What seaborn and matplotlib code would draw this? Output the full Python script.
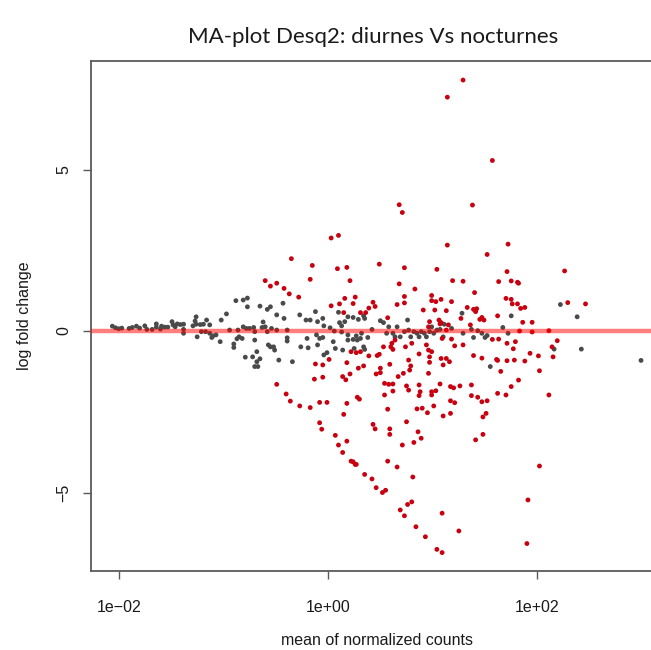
import matplotlib
matplotlib.use('Agg')
import matplotlib.pyplot as plt
import seaborn as sns
import numpy as np
import pandas as pd
from matplotlib.ticker import FixedLocator, NullLocator

# log10(mean of normalized counts) and log fold change, read off the MA-plot
# genes not significant (gray)
gray_log_mean = [
    -2.06, -2.03, -2.00, -1.97, -1.90, -1.87, -1.83, -1.80, -1.75, -1.73,
    -1.68, -1.64, -1.64, -1.60, -1.59, -1.56, -1.53, -1.49, -1.48, -1.46,
    -1.44, -1.41, -1.38, -1.38, -1.38, -1.29, -1.27, -1.26, -1.26, -1.25,
    -1.22, -1.21, -1.19, -1.17, -1.16, -1.13, -1.13, -1.11, -1.10, -1.07,
    -1.03, -1.02, -0.97, -0.94, -0.90, -0.90, -0.87, -0.86, -0.85, -0.82,
    -0.81, -0.79, -0.78, -0.75, -0.72, -0.71, -0.70, -0.70, -0.68, -0.67,
    -0.65, -0.68, -0.70, -0.63, -0.62, -0.60, -0.58, -0.57, -0.55, -0.54,
    -0.52, -0.51, -0.49, -0.47, -0.88, -0.81, -0.77, -0.77, -0.65, -0.58,
    -0.55, -0.49,
    -0.43, -0.42, -0.39, -0.39, -0.39, -0.34, -0.27, -0.21, -0.17, -0.12,
    -0.10, -0.05, -0.04, -0.11, -0.08, -0.05, -0.20, -0.26, -0.19, -0.10,
    -0.04, -0.01, 0.02, 0.06, 0.05, 0.07, 0.10, 0.11, 0.13, 0.16,
    0.13, 0.19, 0.19, 0.24, 0.29, 0.34, 0.35, 0.19, 0.24, 0.27,
    0.28, 0.31, 0.32, 0.34, 0.35, 0.38, 0.25, 0.14, 0.42, 0.50,
    0.53, 0.58, 0.56, 0.62, 0.64, 0.66, 0.69, 0.73, 0.76, 0.77,
    0.79, 0.82, 0.85, 0.87, 0.89, 0.92, 0.94, 0.97, 1.01, 1.04,
    1.07, 1.10, 0.99, 1.11, 1.18, 1.29, 1.28,
    2.22, 2.38, 1.75, 1.67, 1.37, 1.43, 1.47, 1.52, 1.50, 1.39,
    1.72, 1.55, 2.16, 2.42, 2.99,
]
gray_lfc = [
    0.15, 0.10, 0.07, 0.09, 0.08, 0.11, 0.15, 0.09, 0.16, 0.05,
    0.05, 0.22, 0.12, 0.06, 0.15, 0.12, 0.12, 0.29, 0.19, 0.13,
    0.22, 0.20, 0.21, 0.05, -0.07, 0.16, 0.31, 0.44, 0.21, -0.18,
    0.20, -0.02, 0.21, -0.02, 0.34, 0.19, -0.07, -0.20, -0.15, -0.12,
    -0.33, 0.34, 0.53, 0.03, -0.40, -0.51, -0.24, 0.03, -0.18, -0.23,
    0.13, -0.81, 0.08, 0.08, -0.80, 0.11, -0.02, -0.28, -0.95, -1.10,
    -0.86, -0.64, -1.10, 0.11, 0.28, 0.13, -0.02, -0.43, -0.49, 0.08,
    -0.49, -0.59, 0.03, -0.90, 0.94, 0.96, 1.02, 0.75, 0.77, 0.67,
    0.75, 0.50,
    0.86, 0.39, 0.03, -0.21, -0.31, -0.95, 0.50, 0.34, 0.34, 0.60,
    0.29, 0.39, 0.16, -0.12, -0.23, -0.20, -0.23, -0.49, -0.52, -0.43,
    -0.74, -0.67, 0.10, 0.00, -0.33, -0.54, 0.58, 0.26, 0.16, 0.29,
    -0.03, -0.12, 0.44, 0.42, 0.36, 0.47, 0.39, -0.28, -0.26, -0.15,
    -0.28, -0.23, -0.07, -0.49, -0.57, -0.20, -0.54, -0.59, 0.05, 0.32,
    0.26, 0.13, -0.07, -0.07, -0.18, 0.13, -0.18, -0.02, 0.34, 0.03,
    -0.18, -0.02, -0.07, -0.18, -0.02, -0.07, -0.18, -0.02, -0.07, 0.03,
    0.05, -0.18, 0.13, 0.21, 0.08, -0.07, 0.55,
    0.82, 0.44, 0.47, 0.11, 0.05, 0.01, -0.07, -0.14, -0.20, -0.20,
    -0.07, -1.10, -0.56, -0.56, -0.91,
]

# significant genes (red)
red_log_mean = [
    1.29, 1.14, 0.68, 0.71, 1.57, 1.38,
    -0.60, -0.55, -0.49, -0.49,
    0.03, 0.10, -0.35, -0.15, -0.17, 0.09, 0.18, 0.21, 0.49, 0.73,
    1.14, 1.04, 0.68, 0.83, 1.19, 1.29, -0.42, -0.37, -0.28, 0.03,
    0.11, 0.16, 0.24, 0.26, 0.43, 0.45, 0.39, 0.31, 0.36, 0.15,
    0.57, 0.66, 0.73, 0.73, 0.91, 0.99, 1.03, 0.99, 1.08, 1.02,
    1.13, 1.18, 1.27, 1.33, 1.06, 1.08, 0.97, 0.96, 1.07, 1.15,
    1.13, 0.61, 0.60, 0.53, 0.64, 0.62, 0.74, 0.80, 0.94, 0.96,
    0.99, 0.97, 1.08, 1.13, 1.10, 1.16, 1.29, 1.21, 1.18, 1.09,
    0.22, 0.27, 0.31, 0.39, 0.47, 0.49, 0.01, -0.05, -0.12, 0.18,
    0.29, 0.34, 0.59, 0.77, 0.78, 0.79, 0.87, 0.97, -0.13, -0.05,
    0.14, 0.17, 0.21, 0.46, 0.50, 0.50, 0.67, 0.72, 0.96, 0.54,
    0.58, 0.62, 0.62, 0.54, 0.75, 0.77, 0.87, 0.88, 0.87, 0.99,
    0.99, 1.03, 1.07, 1.17, 1.20, 1.26, -0.40, -0.36, -0.08, -0.01,
    0.18, 0.28, 0.30, 1.17, 1.21,
    1.72, 1.52, 1.71, 1.63, 1.75, 1.81, 1.82, 1.40, 1.70, 1.75,
    1.76, 1.81, 1.84, 1.88, 1.39, 1.41, 1.42, 1.47, 1.45, 1.49,
    1.62, 1.86, 1.95, 2.26, 2.29, 2.46, 1.36, 1.83, 1.95, 2.11,
    1.57, 1.63, 1.71, 1.79, 1.77, 2.14, 2.19, 2.15, 1.93, 2.01,
    1.39, 1.47, 1.61, 1.62, 1.71, 1.78, 1.88, 1.65, 2.02, 1.82,
    1.75, 1.37, 1.37, 1.43, 1.47, 1.52, 1.62, 1.70, 2.11,
    -0.27, -0.17, 0.15, 0.57, 0.85, 0.90, 0.95, 1.01, 1.10, 1.17,
    -0.08, -0.06, 0.43, 0.45, 0.59, 0.59, 0.75, 0.86, 0.89, 0.82,
    0.71, 0.07, 0.18, 0.10, 0.14, 0.22, 0.24, 0.26, 0.27, 0.57,
    0.66, 0.35, 0.42, 0.46, 0.52, 0.55, 0.81, 0.69, 0.73, 0.76,
    0.80, 1.09, 0.84, 0.93, 1.04, 1.09, 1.25,
    1.51, 1.48, 1.48, 1.41, 2.02, 1.91, 1.90,
]
red_lfc = [
    7.77, 7.24, 3.91, 3.67, 5.28, 3.90,
    1.56, 1.39, 1.48, -1.65,
    2.88, 2.96, 2.24, 2.03, 1.60, 1.93, 1.97, 1.56, 2.07, 1.96,
    2.66, 1.91, 1.46, 1.30, 1.56, 1.54, 1.32, 1.15, 1.05, 0.78,
    0.84, 1.01, 0.85, 1.05, 0.89, 0.76, 0.71, 0.57, 0.57, 0.57,
    0.41, 0.82, 1.07, 0.87, 0.65, 1.10, 0.91, 0.94, 0.98, 0.65,
    0.63, 0.91, 0.39, 0.73, 0.34, 0.26, 0.29, 0.13, 0.22, 0.19,
    0.03, -0.38, -0.49, -0.49, -0.28, -0.57, -0.49, -0.38, -0.43, -0.59,
    -0.64, -0.80, -0.85, -0.85, -1.05, -0.95, -0.43, -0.46, -0.25, -0.23,
    -0.64, -0.67, -0.64, -0.77, -0.76, -0.72, -0.88, -1.05, -1.02, -0.98,
    -1.15, -1.08, -1.03, -0.90, -1.21, -1.08, -0.71, -0.97, -1.49, -1.43,
    -1.41, -1.51, -1.33, -1.33, -1.29, -1.15, -1.41, -1.31, -1.31, -1.62,
    -1.65, -1.64, -1.86, -1.98, -1.70, -1.83, -1.67, -1.88, -2.00, -1.88,
    -1.98, -1.85, -1.64, -1.72, -1.76, -1.70, -1.95, -2.17, -2.21, -2.21,
    -2.24, -2.05, -2.11, -2.16, -2.22,
    2.69, 2.37, 1.84, 1.53, 1.55, 1.51, 1.48, 1.19, 1.01, 0.98,
    0.84, 0.84, 0.70, 0.73, 0.67, 0.60, 0.69, 0.42, 0.36, 0.34,
    0.47, 0.27, 0.27, 1.86, 0.88, 0.84, 0.19, 0.00, -0.03, 0.01,
    -0.26, -0.25, -0.38, -0.33, -0.55, -0.49, -0.30, -0.80, -0.69, -0.77,
    -0.76, -0.84, -0.88, -0.91, -0.92, -0.90, -0.93, -1.25, -1.23, -1.52,
    -1.72, -1.67, -2.00, -2.05, -2.19, -2.16, -1.93, -1.98, -1.98,
    -2.32, -2.37, -2.58, -2.42, -2.41, -2.39, -2.53, -2.32, -2.63, -2.55,
    -2.84, -3.04, -2.89, -3.03, -3.03, -3.20, -2.81, -3.12, -3.32, -3.45,
    -3.53, -3.23, -3.41, -3.53, -3.76, -4.03, -4.05, -4.13, -4.13, -4.03,
    -4.21, -4.44, -4.58, -4.85, -5.00, -4.93, -4.52, -5.54, -5.72, -5.37,
    -5.29, -5.64, -6.06, -6.37, -6.76, -6.86, -6.19,
    -2.55, -2.66, -3.20, -3.37, -4.18, -5.23, -6.58,
]

x_ticks = [1e-2, 1e0, 1e2]
x_tick_labels = ['1e\u221202', '1e+00', '1e+02']
y_ticks = [-5, 0, 5]
y_tick_labels = ['\u22125', '0', '5']

df = pd.DataFrame({
    'baseMean': 10 ** np.array(gray_log_mean + red_log_mean),
    'log2FoldChange': gray_lfc + red_lfc,
    'sig': ['no'] * len(gray_lfc) + ['yes'] * len(red_lfc),
})

sns.set_style('ticks')
plt.rcParams['font.family'] = ['Liberation Sans', 'DejaVu Sans']

fig = plt.figure(figsize=(6.51, 6.5), dpi=100)
# the box runs a little past the right edge, as in the cropped original
ax = fig.add_axes([91 / 651, 79 / 650, 572 / 651, 510 / 650])

sns.scatterplot(data=df, x='baseMean', y='log2FoldChange', hue='sig',
                palette={'no': '#4a4a4a', 'yes': '#c8000f'},
                s=12, linewidth=0, legend=False, ax=ax, zorder=2)
ax.axhline(0, color='#ff0000', alpha=0.5, lw=3.2, zorder=3)

ax.set_xscale('log')
ax.set_xlim(10 ** -2.264, 10 ** 3.2)
ax.set_ylim(-7.43, 8.36)

ax.xaxis.set_major_locator(FixedLocator(x_ticks))
ax.xaxis.set_minor_locator(NullLocator())
ax.set_xticklabels(x_tick_labels)
ax.set_yticks(y_ticks)
ax.set_yticklabels(y_tick_labels, rotation=90, va='center')

for sp in ax.spines.values():
    sp.set_color('#5a5a5a')
    sp.set_linewidth(1.3)
ax.tick_params(axis='both', length=6, width=1.0, color='#5a5a5a',
               labelsize=11.5, labelcolor='#1a1a1a')
ax.tick_params(axis='x', pad=15)
ax.tick_params(axis='y', pad=8)

ax.set_xlabel('mean of normalized counts', fontsize=11.5, color='#1a1a1a', labelpad=12.5)
ax.set_ylabel('log fold change', fontsize=11.5, color='#1a1a1a', labelpad=18)

fig.text(373 / 651, 1 - 37 / 650, 'MA-plot Desq2: diurnes Vs nocturnes',
         ha='center', va='center', fontsize=16, family=['Lato', 'DejaVu Sans'],
         color='#1a1a1a')

fig.savefig('out.png', dpi=100, facecolor='white')
